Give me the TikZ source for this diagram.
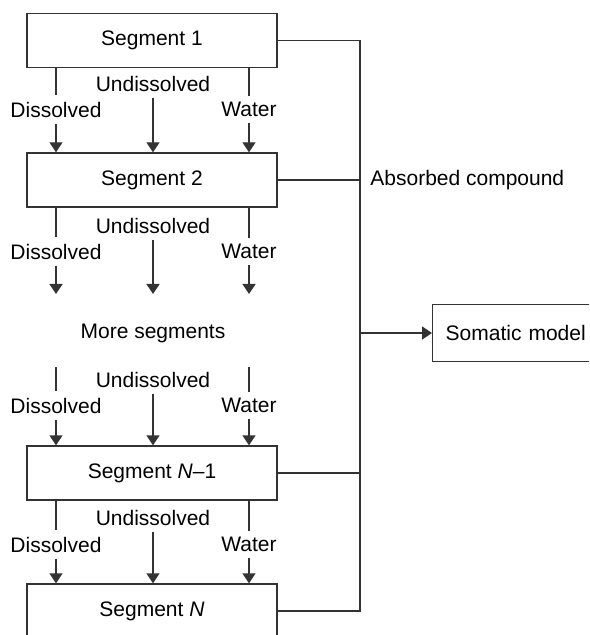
\documentclass[tikz,border=0pt]{standalone}
\usepackage{fontspec}
\setmainfont{Liberation Sans}
\usetikzlibrary{
    arrows.meta,
    positioning,
    calc
}

\begin{document}
\begin{tikzpicture}[
        x=0.5pt, y=-0.5pt,
        every node/.style={font=\fontsize{10.5}{12}\selectfont},
        segment/.style={
            rectangle,
            draw=black!80,
            line width=0.7pt,
            minimum width=125pt,
            minimum height=27pt,
            inner sep=0pt
        },
        model/.style={
            rectangle,
            draw=black!80,
            line width=0.7pt,
            minimum height=28.5pt,
            text width=72pt,
            align=left,
            inner xsep=6.5pt
        },
        flow/.style={inner xsep=0pt,inner ysep=3pt},
        link/.style={line width=0.7pt,draw=black!80},
        arrow/.style={
            link,
            -{Triangle[length=5pt,width=6.5pt]}
        }
    ]
        \useasboundingbox (0,0) rectangle (589,635);
        \clip (0,0) rectangle (589,635);

        % Segments along the tract
        \node[segment] (seg1) at (152,40.5) {Segment 1};
        \node[segment] (seg2) at (152,180) {Segment 2};
        \node (more) at (153,333) {More segments};
        \node[segment] (segN1) at (152,473) {Segment \textit{N}--1};
        \node[segment] (segN) at (152,611) {Segment \textit{N}};

        % Segment 1 to segment 2
        \node[flow] (dis1) at (56,109.5) {Dissolved};
        \node[flow] (und1) at (153,83.5) {Undissolved};
        \node[flow] (wat1) at (249,109.5) {Water};
        \draw[link] (seg1.south -| dis1) -- (dis1.north);
        \draw[arrow] (dis1.south) -- (seg2.north -| dis1);
        \draw[arrow] (und1.south) -- (seg2.north -| und1);
        \draw[link] (seg1.south -| wat1) -- (wat1.north);
        \draw[arrow] (wat1.south) -- (seg2.north -| wat1);

        % Segment 2 to more segments
        \coordinate (gap1) at (0,294);
        \node[flow] (dis2) at (56,251.5) {Dissolved};
        \node[flow] (und2) at (153,226) {Undissolved};
        \node[flow] (wat2) at (249,251.5) {Water};
        \draw[link] (seg2.south -| dis2) -- (dis2.north);
        \draw[arrow] (dis2.south) -- (dis2 |- gap1);
        \draw[arrow] (und2.south) -- (und2 |- gap1);
        \draw[link] (seg2.south -| wat2) -- (wat2.north);
        \draw[arrow] (wat2.south) -- (wat2 |- gap1);

        % More segments to segment N-1
        \coordinate (gap2) at (0,367);
        \node[flow] (dis3) at (56,405.5) {Dissolved};
        \node[flow] (und3) at (153,379.5) {Undissolved};
        \node[flow] (wat3) at (249,405.5) {Water};
        \draw[link] (dis3 |- gap2) -- (dis3.north);
        \draw[arrow] (dis3.south) -- (segN1.north -| dis3);
        \draw[arrow] (und3.south) -- (segN1.north -| und3);
        \draw[link] (wat3 |- gap2) -- (wat3.north);
        \draw[arrow] (wat3.south) -- (segN1.north -| wat3);

        % Segment N-1 to segment N
        \node[flow] (dis4) at (56,544.5) {Dissolved};
        \node[flow] (und4) at (153,517.5) {Undissolved};
        \node[flow] (wat4) at (249,544.5) {Water};
        \draw[link] (segN1.south -| dis4) -- (dis4.north);
        \draw[arrow] (dis4.south) -- (segN.north -| dis4);
        \draw[arrow] (und4.south) -- (segN.north -| und4);
        \draw[link] (segN1.south -| wat4) -- (wat4.north);
        \draw[arrow] (wat4.south) -- (segN.north -| wat4);

        % Absorbed compound collected into the somatic model
        \coordinate (bus) at (360,0);
        \node[anchor=west,inner sep=0pt] (absorbed) at (370,180)
            {Absorbed compound};
        \node[model,anchor=west] (soma) at (432,333) {Somatic model};
        \draw[link] (seg1.east) -- (seg1 -| bus) -- (segN -| bus) -- (segN.east);
        \draw[link] (seg2.east) -- (seg2 -| bus);
        \draw[link] (segN1.east) -- (segN1 -| bus);
        \draw[arrow] (soma.west -| bus) -- (soma.west);
    \end{tikzpicture}
\end{document}
